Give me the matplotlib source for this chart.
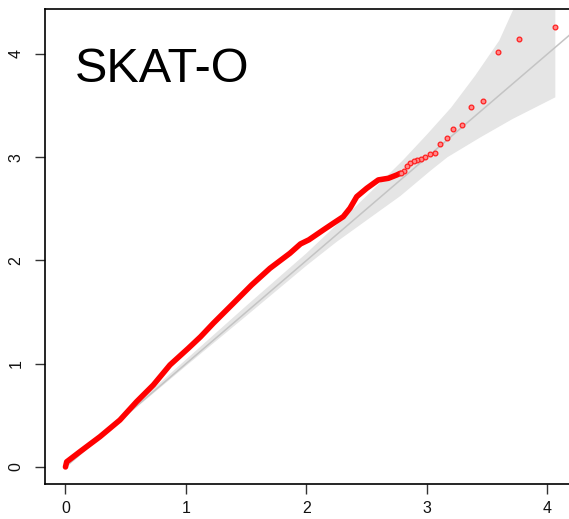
import matplotlib
matplotlib.use("Agg")
import matplotlib.pyplot as plt

# ---- data ----
# dense part of the observed curve (expected -log10 p, observed -log10 p)
curve_x = [0.0, 0.01, 0.12, 0.286, 0.452, 0.59, 0.729, 0.867, 1.019, 1.12, 1.227,
           1.393, 1.545, 1.697, 1.863, 1.95, 2.02, 2.139, 2.222, 2.305, 2.361,
           2.417, 2.5, 2.596, 2.68, 2.749, 2.78]
curve_y = [0.0, 0.05, 0.148, 0.293, 0.455, 0.632, 0.794, 0.988, 1.149, 1.26, 1.392,
           1.585, 1.763, 1.924, 2.07, 2.16, 2.2, 2.295, 2.36, 2.424, 2.506,
           2.618, 2.699, 2.78, 2.796, 2.828, 2.845]

# sparse top tail points
tail_x = [4.065, 3.764, 3.588, 3.463, 3.366, 3.287, 3.220, 3.162, 3.111, 3.065,
          3.024, 2.986, 2.951, 2.919, 2.889, 2.861, 2.834, 2.810, 2.786]
tail_y = [4.265, 4.142, 4.022, 3.548, 3.484, 3.315, 3.277, 3.189, 3.128, 3.038,
          3.035, 3.000, 2.986, 2.973, 2.967, 2.940, 2.918, 2.870, 2.850]

# confidence band edges
band_up_x = [0.0, 0.5, 1.0, 1.5, 2.0, 2.3, 2.6, 2.8, 3.0, 3.2, 3.4, 3.6, 3.72, 3.9, 4.065]
band_up_y = [0.0, 0.52, 1.04, 1.56, 2.07, 2.40, 2.74, 2.97, 3.22, 3.48, 3.79, 4.13, 4.44, 4.9, 5.35]
band_lo_x = [0.0, 0.5, 1.0, 1.5, 2.0, 2.25, 2.5, 2.78, 3.03, 3.17, 3.44, 3.71, 4.065]
band_lo_y = [0.0, 0.488, 0.978, 1.462, 1.95, 2.18, 2.39, 2.625, 2.87, 3.0, 3.19, 3.37, 3.58]

diag = [0.0, 4.6]
xticks = [0, 1, 2, 3, 4]
yticks = [0, 1, 2, 3, 4]
title = "SKAT-O"

# ---- figure ----
W, H, DPI = 569, 519, 100
fig = plt.figure(figsize=(W / DPI, H / DPI), dpi=DPI)
plt.rcParams['font.family'] = ['Liberation Sans', 'DejaVu Sans']

xmin, xmax = -0.17, 4.42
ymin, ymax = -0.165, 4.436
pxx, pxy = 120.5, 103.25
left_px, bottom_px = 45, 35
ax = fig.add_axes([left_px / W, bottom_px / H,
                   (xmax - xmin) * pxx / W, (ymax - ymin) * pxy / H])
ax.set_xlim(xmin, xmax)
ax.set_ylim(ymin, ymax)

# band polygon
poly_x = band_up_x + band_lo_x[::-1]
poly_y = band_up_y + band_lo_y[::-1]
ax.fill(poly_x, poly_y, color="#e5e5e5", lw=0, zorder=1)

ax.plot(diag, diag, color="#c4c4c4", lw=1.1, zorder=2)

ax.plot(curve_x, curve_y, color="#ff0000", lw=4.0, solid_capstyle="round",
        solid_joinstyle="round", zorder=3)
ax.plot(tail_x, tail_y, ls="none", marker="o", ms=3.4, mfc="#ff8a8a",
        mec="#ff2020", mew=0.9, zorder=4)

ax.text(0.075, 3.73, title, fontsize=35, color="black", va="baseline", ha="left")

for s in ["left", "bottom", "top"]:
    ax.spines[s].set_linewidth(1.2)
    ax.spines[s].set_color("black")
ax.spines["right"].set_visible(False)

ax.set_xticks(xticks)
ax.set_yticks(yticks)
ax.set_xticklabels([str(t) for t in xticks])
ax.set_yticklabels([str(t) for t in yticks], rotation=90, va="center")
ax.tick_params(axis="both", direction="out", length=7.5, width=1.0,
               color="#333333", labelsize=11.5, labelcolor="#111111")
ax.tick_params(axis="x", pad=5)
ax.tick_params(axis="y", pad=8)

fig.savefig("out.png", dpi=DPI)
